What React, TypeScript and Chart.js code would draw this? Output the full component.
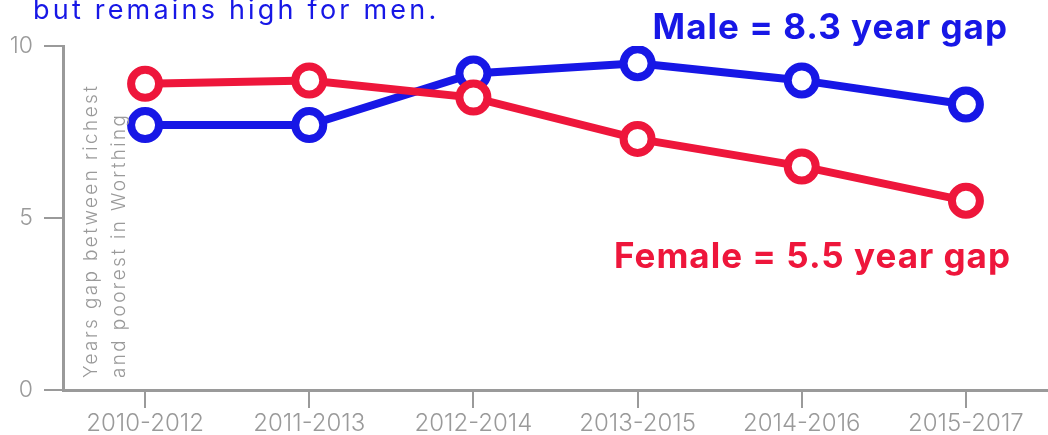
import React, { useEffect, useRef } from "react";
import { Chart, registerables } from "chart.js";

Chart.register(...registerables);

const categories = ["2010-2012", "2011-2013", "2012-2014", "2013-2015", "2014-2016", "2015-2017"];
const maleValues = [7.7, 7.7, 9.2, 9.5, 9.0, 8.3];
const femaleValues = [8.9, 9.0, 8.5, 7.3, 6.5, 5.5];
const yMin = 0;
const yMax = 10;
const yStep = 5;

const titleLine = "but remains high for men.";
const maleLabel = "Male = 8.3 year gap";
const femaleLabel = "Female = 5.5 year gap";
const yTitleLines = ["Years gap between richest", "and poorest in Worthing"];

const BLUE = "#1717e6";
const RED = "#ee163b";
const GREY = "#9a9a9a";
const FONT = "Inter";

const textPlugin = {
  id: "textPlugin",
  afterDraw(chart: any) {
    const ctx = chart.ctx;
    ctx.save();
    ctx.direction = "ltr";

    // title (second line, cropped at top of the picture)
    ctx.fillStyle = BLUE;
    ctx.font = `400 27px ${FONT}`;
    ctx.letterSpacing = "3.2px";
    ctx.textAlign = "left";
    ctx.textBaseline = "alphabetic";
    ctx.fillText(titleLine, 33, 19);

    // annotations
    ctx.font = `700 35px ${FONT}`;
    ctx.letterSpacing = "1px";
    ctx.textAlign = "right";
    ctx.textBaseline = "alphabetic";
    ctx.fillStyle = BLUE;
    ctx.fillText(maleLabel, 1008, 39);
    ctx.fillStyle = RED;
    ctx.fillText(femaleLabel, 1011, 268);

    // y axis title inside the plot
    ctx.fillStyle = GREY;
    ctx.font = `300 19px ${FONT}`;
    ctx.letterSpacing = "2.35px";
    ctx.textAlign = "left";
    ctx.textBaseline = "middle";
    const xs = [91, 119];
    yTitleLines.forEach((line, i) => {
      ctx.save();
      ctx.translate(xs[i], 378);
      ctx.rotate(-Math.PI / 2);
      ctx.fillText(line, 0, 0);
      ctx.restore();
    });
    ctx.letterSpacing = "0px";
    ctx.restore();
  },
};

export default function App() {
  const canvasRef = useRef<HTMLCanvasElement | null>(null);

  useEffect(() => {
    if (!canvasRef.current) return;
    const chart = new Chart(canvasRef.current, {
      type: "line",
      data: {
        labels: categories,
        datasets: [
          {
            label: "Female",
            data: femaleValues,
            borderColor: RED,
            backgroundColor: "#ffffff",
            borderWidth: 8,
            pointRadius: 14,
            pointBorderWidth: 8,
            pointBackgroundColor: "#ffffff",
            pointBorderColor: RED,
            tension: 0,
          },
          {
            label: "Male",
            data: maleValues,
            borderColor: BLUE,
            backgroundColor: "#ffffff",
            borderWidth: 8,
            pointRadius: 14,
            pointBorderWidth: 8,
            pointBackgroundColor: "#ffffff",
            pointBorderColor: BLUE,
            tension: 0,
          },
        ],
      },
      options: {
        animation: false,
        responsive: true,
        maintainAspectRatio: false,
        layout: { autoPadding: false, padding: { top: 46, left: 0, right: 0, bottom: 0 } },
        plugins: {
          legend: { display: false },
          tooltip: { enabled: false },
          title: { display: false },
        },
        scales: {
          x: {
            offset: true,
            grid: {
              display: true,
              drawOnChartArea: false,
              drawTicks: true,
              tickLength: 18,
              color: GREY,
              lineWidth: 2,
              offset: false,
            },
            border: { display: true, color: GREY, width: 3 },
            ticks: {
              color: GREY,
              font: { family: FONT, size: 24, weight: "300" },
              padding: 1,
              maxRotation: 0,
              autoSkip: false,
            },
            afterFit: (scale: any) => {
              scale.height = 45;
            },
          },
          y: {
            min: yMin,
            max: yMax,
            grid: {
              display: true,
              drawOnChartArea: false,
              drawTicks: true,
              tickLength: 19,
              color: GREY,
              lineWidth: 2,
            },
            border: { display: true, color: GREY, width: 3 },
            ticks: {
              stepSize: yStep,
              color: GREY,
              font: { family: FONT, size: 23, weight: "300" },
              padding: 11,
            },
            afterFit: (scale: any) => {
              scale.width = 63;
            },
          },
        },
      },
      plugins: [textPlugin],
    });
    return () => chart.destroy();
  }, []);

  return (
    <div
      style={{
        position: "fixed",
        left: 0,
        top: 0,
        width: 1048,
        height: 435,
        background: "#ffffff",
        overflow: "hidden",
      }}
    >
      <canvas ref={canvasRef} />
    </div>
  );
}
